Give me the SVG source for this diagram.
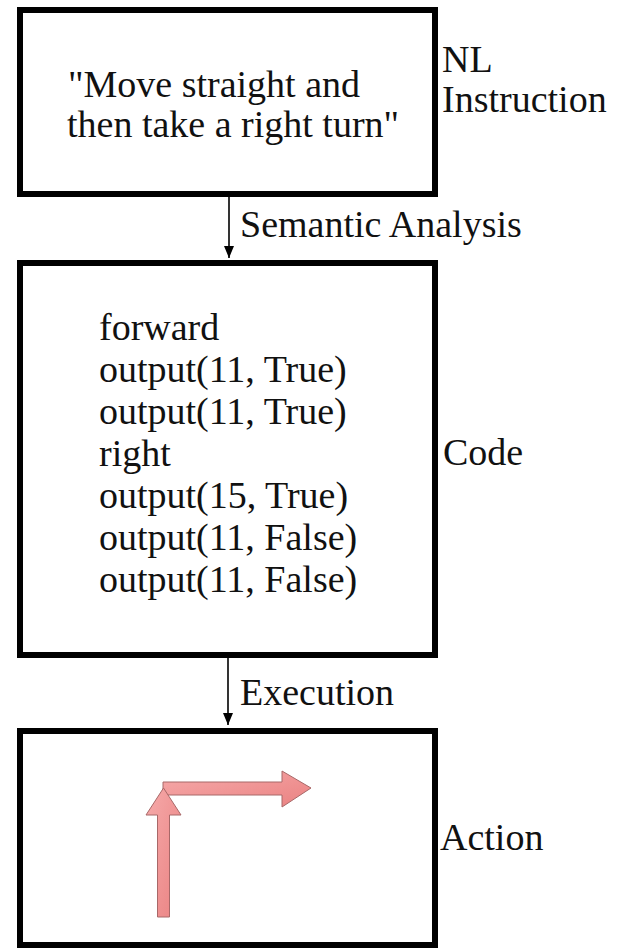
<svg xmlns="http://www.w3.org/2000/svg" width="620" height="949" viewBox="0 0 620 949">
<defs>
<style>
.box{fill:#fff;stroke:#000;stroke-width:6}
.c{stroke:#000;stroke-width:1.6;fill:none}
.ra{fill:url(#pg);stroke:#a86868;stroke-width:1}
</style>
<linearGradient id="pg" x1="0" y1="0" x2="1" y2="1">
<stop offset="0" stop-color="#f6aaaa"/>
<stop offset="1" stop-color="#ea8282"/>
</linearGradient>
<marker id="ah" markerWidth="12" markerHeight="10" refX="12" refY="5" orient="auto" markerUnits="userSpaceOnUse" viewBox="0 0 12 10">
<path d="M0,0 L12,5 L0,10 Z" fill="#000"/>
</marker>
</defs>
<rect width="620" height="949" fill="#fff"/>
<g id="nl-instruction" font-family="Liberation Serif" font-size="38" fill="#111">
<rect class="box" x="20" y="10" width="415" height="184"/>
<text x="68" y="97">"Move straight and</text>
<text x="67" y="137">then take a right turn"</text>
<text x="442" y="72">NL</text>
<text x="442" y="112">Instruction</text>
</g>
<g id="code" font-family="Liberation Serif" font-size="38" fill="#111">
<rect class="box" x="20" y="263" width="415" height="392"/>
<text x="99" y="340">forward</text>
<text x="99" y="382">output(11, True)</text>
<text x="99" y="424">output(11, True)</text>
<text x="99" y="466">right</text>
<text x="99" y="508">output(15, True)</text>
<text x="99" y="550">output(11, False)</text>
<text x="99" y="592">output(11, False)</text>
<text x="443" y="465">Code</text>
</g>
<g id="action" font-family="Liberation Serif" font-size="38" fill="#111">
<rect class="box" x="20" y="731" width="415" height="214"/>
<g id="turn-arrow">
<path class="ra" d="M163,782 H282 V771 L311,788 L282,807 V795 H163 Z"/>
<path class="ra" d="M157.5,917 V815 H146 L163.5,788 L181,815 H169.5 V917 Z"/>
</g>
<text x="440" y="850">Action</text>
</g>
<g id="connectors" font-family="Liberation Serif" font-size="38" fill="#111">
<line class="c" x1="229" y1="197" x2="229" y2="258" marker-end="url(#ah)"/>
<text x="240" y="237">Semantic Analysis</text>
<line class="c" x1="228" y1="658" x2="228" y2="725" marker-end="url(#ah)"/>
<text x="240" y="705">Execution</text>
</g>
</svg>
